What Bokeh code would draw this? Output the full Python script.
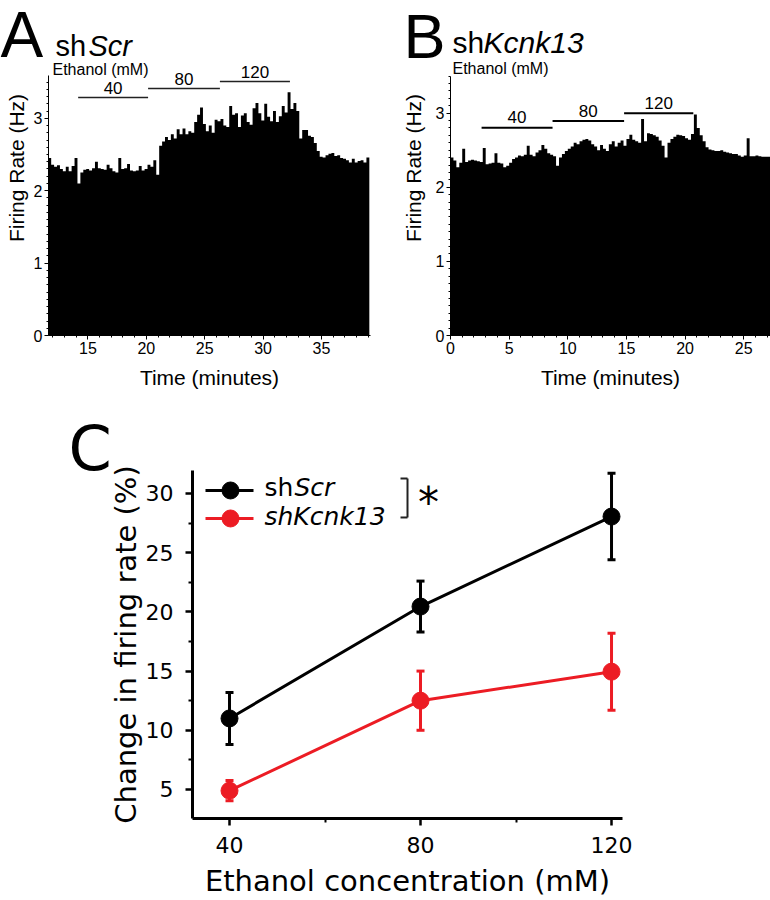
import numpy as np
from bokeh.plotting import figure
from bokeh.models import Label, FixedTicker, Range1d, Whisker, ColumnDataSource, TeeHead, GridBox
from bokeh.layouts import row, column
from bokeh.embed import file_html
from bokeh.resources import INLINE

# ---------------- data ----------------
bin_width = 0.25  # minutes
a_start = 11.6
rate_a = [2.45, 2.36, 2.33, 2.35, 2.30, 2.27, 2.33, 2.27, 2.34, 2.45,
          2.10, 2.25, 2.29, 2.30, 2.28, 2.31, 2.40, 2.31, 2.30, 2.29,
          2.36, 2.31, 2.27, 2.25, 2.45, 2.30, 2.31, 2.37, 2.28, 2.27,
          2.28, 2.34, 2.28, 2.30, 2.36, 2.33, 2.42, 2.22, 2.62, 2.68,
          2.74, 2.70, 2.78, 2.72, 2.85, 2.78, 2.86, 2.78, 2.82, 2.80,
          2.95, 3.05, 3.15, 2.92, 2.82, 2.90, 2.80, 2.98, 2.96, 2.99,
          2.90, 2.88, 3.17, 3.05, 3.07, 2.88, 3.04, 3.07, 2.95, 2.91,
          3.14, 3.21, 3.07, 2.97, 3.20, 3.02, 2.96, 3.10, 2.95, 3.03,
          3.17, 3.08, 3.36, 3.13, 3.21, 3.10, 2.72, 2.84, 2.84, 2.76,
          2.74, 2.66, 2.55, 2.47, 2.46, 2.49, 2.51, 2.52, 2.48, 2.49,
          2.45, 2.44, 2.42, 2.39, 2.44, 2.39, 2.41, 2.42, 2.39, 2.46]
b_start = 0.0
rate_b = [2.40, 2.36, 2.27, 2.33, 2.52, 2.34, 2.36, 2.37, 2.36, 2.35,
          2.34, 2.53, 2.31, 2.32, 2.33, 2.46, 2.33, 2.32, 2.27, 2.29,
          2.33, 2.38, 2.40, 2.43, 2.42, 2.44, 2.56, 2.44, 2.42, 2.47,
          2.50, 2.57, 2.52, 2.46, 2.44, 2.42, 2.29, 2.40, 2.45, 2.49,
          2.52, 2.55, 2.60, 2.58, 2.62, 2.64, 2.65, 2.63, 2.58, 2.55,
          2.50, 2.57, 2.52, 2.49, 2.58, 2.62, 2.55, 2.60, 2.63, 2.56,
          2.65, 2.71, 2.64, 2.62, 2.60, 2.92, 2.62, 2.73, 2.72, 2.70,
          2.68, 2.63, 2.56, 2.40, 2.60, 2.65, 2.68, 2.71, 2.70, 2.69,
          2.66, 2.64, 2.72, 2.98, 2.80, 2.70, 2.62, 2.54, 2.51, 2.50,
          2.49, 2.49, 2.50, 2.48, 2.47, 2.46, 2.45, 2.45, 2.43, 2.41,
          2.43, 2.66, 2.42, 2.42, 2.43, 2.42, 2.41, 2.41, 2.41, 2.41]

eth_levels = ["40", "80", "120"]
eth_a_on = [14.16, 20.15, 26.3]
eth_a_off = [20.15, 26.3, 32.3]
eth_b_on = [2.65, 8.7, 14.8]
eth_b_off = [8.7, 14.8, 20.7]

conc = [40, 80, 120]
scr_mean = [11.0, 20.45, 28.05]
scr_sem = [2.2, 2.15, 3.65]
kcnk_mean = [4.9, 12.5, 14.95]
kcnk_sem = [0.85, 2.5, 3.25]

# ---------------- style ----------------
AB_FONT = "Liberation Sans"
C_FONT = "DejaVu Sans"
RED = "#ec1c24"
BASE_K = 0.33  # empirical shift of Bokeh's alphabetic baseline (fraction of font size)


def style_hist_axes(p, label_standoff, ybound):
    p.grid.visible = False
    p.outline_line_color = None
    for ax in (p.xaxis[0], p.yaxis[0]):
        ax.axis_line_color = "black"
        ax.axis_line_width = 1
        ax.major_tick_line_color = "black"
        ax.minor_tick_line_color = "black"
        ax.major_tick_out = 4
        ax.major_tick_in = 0
        ax.minor_tick_out = 2
        ax.minor_tick_in = 0
        ax.major_label_text_font = AB_FONT
        ax.major_label_text_font_size = "16px"
        ax.major_label_text_color = "black"
        ax.axis_label_text_font = AB_FONT
        ax.axis_label_text_font_size = "21px"
        ax.axis_label_text_font_style = "normal"
        ax.axis_label_text_color = "black"
        ax.major_label_standoff = 2
    p.yaxis[0].axis_label_standoff = label_standoff
    p.xaxis[0].axis_label_standoff = 9
    p.xaxis[0].axis_label = "Time (minutes)"
    p.yaxis[0].axis_label = "Firing Rate (Hz)"
    p.yaxis[0].bounds = (0, ybound)
    p.yaxis[0].ticker = FixedTicker(ticks=[0, 1, 2, 3],
                                    minor_ticks=[i / 10 for i in range(0, int(ybound * 10) + 1)])


def add_label(p, fx, fy, px, py, text, size, font, style="normal", align="left", shift=True):
    """px, py: wanted position in page pixels (py = baseline); fx, fy map pixels to data."""
    s = int(size.replace("px", ""))
    if shift:
        py = py - BASE_K * s
    p.add_layout(Label(x=fx(px), y=fy(py), text=text, text_font=font, text_font_size=size,
                       text_font_style=style, text_align=align, text_baseline="alphabetic",
                       text_color="black"))


# ---------------- panel A ----------------
ax_ = lambda px: 11.62 + (px - 48) / 11.675
ay_ = lambda py: (335 - py) / 72.4

pA = figure(width=390, height=400, x_range=Range1d(11.62, 39.2), y_range=Range1d(0, ay_(0)),
            output_backend="svg", toolbar_location=None,
            min_border_left=48, min_border_right=20, min_border_top=0, min_border_bottom=65)
style_hist_axes(pA, 3, 3.59)
pA.xaxis[0].ticker = FixedTicker(ticks=[15, 20, 25, 30, 35], minor_ticks=list(range(12, 40)))
xa = [a_start + i * bin_width for i in range(len(rate_a) + 1)]
pA.varea_step(x=xa, y1=[0] * len(xa), y2=rate_a + [rate_a[-1]], step_mode="after",
              fill_color="black")
bar_a_px = [97, 88, 81]
lev_a = [ay_(v) for v in bar_a_px]
pA.segment(x0=eth_a_on, x1=eth_a_off, y0=lev_a, y1=lev_a, line_color="#222222", line_width=1.5)
for on, off, bp, t in zip(eth_a_on, eth_a_off, bar_a_px, eth_levels):
    mid_px = 48 + ((on + off) / 2 - 11.62) * 11.675
    add_label(pA, ax_, ay_, mid_px, bp - 4, t, "17px", AB_FONT, align="center")
add_label(pA, ax_, ay_, 52, 74, "Ethanol (mM)", "16px", AB_FONT)
add_label(pA, ax_, ay_, 55, 55, "sh", "29px", AB_FONT)
add_label(pA, ax_, ay_, 88, 55, "Scr", "29px", AB_FONT, style="italic")

# ---------------- panel B ----------------
bx_ = lambda px: (px - 450) / 11.73
by_ = lambda py: (342 - py) / 75.67

pB = figure(width=380, height=400, x_range=Range1d(0, bx_(770)), y_range=Range1d(0, by_(0)),
            output_backend="svg", toolbar_location=None,
            min_border_left=60, min_border_right=0, min_border_top=0, min_border_bottom=58)
style_hist_axes(pB, 8, 3.5)
pB.xaxis[0].ticker = FixedTicker(ticks=[0, 5, 10, 15, 20, 25], minor_ticks=list(range(0, 28)))
xb = [b_start + i * bin_width for i in range(len(rate_b) + 1)]
pB.varea_step(x=xb, y1=[0] * len(xb), y2=rate_b + [rate_b[-1]], step_mode="after",
              fill_color="black")
bar_b_px = [130, 123, 115]
lev_b = [by_(v) for v in bar_b_px]
pB.segment(x0=eth_b_on, x1=eth_b_off, y0=lev_b, y1=lev_b, line_color="black", line_width=2)
for on, off, bp, t in zip(eth_b_on, eth_b_off, bar_b_px, eth_levels):
    mid_px = 450 + (on + off) / 2 * 11.73
    add_label(pB, bx_, by_, mid_px, bp - 5, t, "17px", AB_FONT, align="center")
add_label(pB, bx_, by_, 452, 75, "Ethanol (mM)", "16px", AB_FONT)
add_label(pB, bx_, by_, 452, 53, "sh", "30px", AB_FONT)
add_label(pB, bx_, by_, 483, 53, "Kcnk13", "30px", AB_FONT, style="italic")

# ---------------- panel C ----------------
cx_ = lambda px: 32.25 + (px - 192) / 4.775
cy_ = lambda py: 2.55 + (818 - py) / 11.84

pC = figure(width=650, height=500, x_range=Range1d(32.25, 122.3), y_range=Range1d(2.55, 31.94),
            output_backend="svg", toolbar_location=None,
            min_border_left=192, min_border_right=28, min_border_top=70, min_border_bottom=82)
pC.grid.visible = False
pC.outline_line_color = None
for ax in (pC.xaxis[0], pC.yaxis[0]):
    ax.axis_line_color = "black"
    ax.axis_line_width = 3
    ax.major_tick_line_color = "black"
    ax.major_tick_line_width = 2.5
    ax.minor_tick_line_color = "black"
    ax.minor_tick_line_width = 2
    ax.major_tick_out = 7
    ax.major_tick_in = 0
    ax.minor_tick_out = 4
    ax.minor_tick_in = 0
    ax.major_label_text_font = C_FONT
    ax.major_label_text_font_size = "22px"
    ax.major_label_text_color = "black"
    ax.axis_label_text_font = C_FONT
    ax.axis_label_text_font_size = "29px"
    ax.axis_label_text_font_style = "normal"
    ax.axis_label_text_color = "black"
pC.yaxis[0].major_label_standoff = 12
pC.yaxis[0].axis_label_standoff = 0
pC.xaxis[0].major_label_standoff = 11
pC.xaxis[0].axis_label_standoff = 8
pC.xaxis[0].axis_label = "Ethanol concentration (mM)"
pC.yaxis[0].axis_label = "Change in firing rate (%)"
pC.xaxis[0].ticker = FixedTicker(ticks=[40, 80, 120], minor_ticks=[60, 100])
pC.yaxis[0].ticker = FixedTicker(ticks=[5, 10, 15, 20, 25, 30],
                                 minor_ticks=[7.5, 12.5, 17.5, 22.5, 27.5])

for mean, sem, col in ((scr_mean, scr_sem, "black"), (kcnk_mean, kcnk_sem, RED)):
    src = ColumnDataSource(dict(x=conc, y=mean,
                                lo=[m - s for m, s in zip(mean, sem)],
                                hi=[m + s for m, s in zip(mean, sem)]))
    pC.line("x", "y", source=src, line_color=col, line_width=3)
    pC.add_layout(Whisker(base="x", lower="lo", upper="hi", source=src,
                          line_color=col, line_width=3,
                          lower_head=TeeHead(size=8, line_color=col, line_width=3),
                          upper_head=TeeHead(size=8, line_color=col, line_width=3)))
    pC.scatter("x", "y", source=src, size=17, fill_color=col, line_color=col, marker="circle")

# legend (drawn manually)
for py, col in ((490, "black"), (518, RED)):
    pC.segment(x0=[cx_(205)], x1=[cx_(253)], y0=[cy_(py)], y1=[cy_(py)], line_color=col, line_width=3)
    pC.scatter(x=[cx_(230)], y=[cy_(py)], size=17, fill_color=col, line_color=col, marker="circle")
add_label(pC, cx_, cy_, 264, 495, "sh", "25px", C_FONT)
add_label(pC, cx_, cy_, 294, 495, "Scr", "25px", C_FONT, style="italic")
add_label(pC, cx_, cy_, 264, 524, "shKcnk13", "25px", C_FONT, style="italic")
# significance bracket
pC.segment(x0=[cx_(400), cx_(400), cx_(407)], x1=[cx_(407), cx_(407), cx_(407)],
           y0=[cy_(478), cy_(517), cy_(478)], y1=[cy_(478), cy_(517), cy_(517)],
           line_color="#222222", line_width=2)
add_label(pC, cx_, cy_, 428, 502, "*", "42px", C_FONT, align="center", shift=False)

main = column(row(pA, pB), pC)

# ---------------- transparent overlay for the panel letters ----------------
ov = figure(width=770, height=900, x_range=Range1d(0, 770), y_range=Range1d(0, 900),
            x_axis_type=None, y_axis_type=None, output_backend="svg", toolbar_location=None,
            min_border=0, title=None, background_fill_color=None, border_fill_color=None)
ov.grid.visible = False
ov.outline_line_color = None
ox = lambda px: px
oy = lambda py: 900 - py
add_label(ov, ox, oy, 0, 56, "A", "64px", AB_FONT)
add_label(ov, ox, oy, 403, 56, "B", "63px", AB_FONT)
add_label(ov, ox, oy, 68, 468, "C", "62px", C_FONT)

layout = GridBox(children=[(main, 0, 0), (ov, 0, 0)])
open("out.html", "w").write(file_html(layout, INLINE))
